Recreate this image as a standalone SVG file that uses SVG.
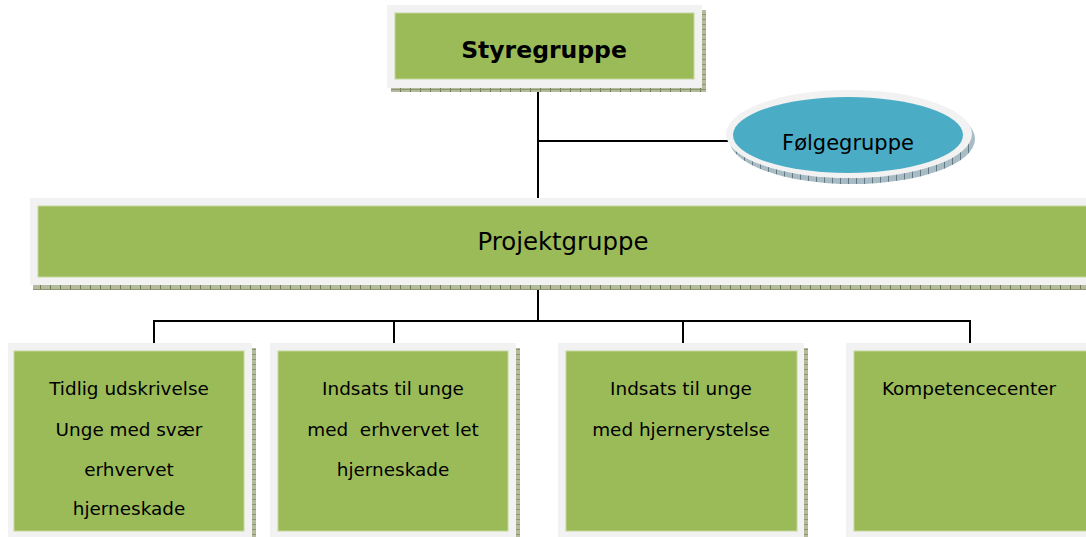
<svg xmlns="http://www.w3.org/2000/svg" width="1086" height="537" viewBox="0 0 1086 537">
<style>
.frame{fill:#f2f2f2}
.box{fill:#9bbb59;stroke:#c3d69b;stroke-width:1}
.sh{fill:url(#hatch)}
.shb{fill:url(#hatchb)}
.conn{stroke:#000;stroke-width:2;fill:none}
text{font-family:"DejaVu Sans","Verdana",sans-serif;fill:#000;text-anchor:middle}
.t{font-size:18.4px}
</style>
<defs>
<pattern id="hatch" width="10" height="5" patternUnits="userSpaceOnUse">
<rect width="10" height="5" fill="#b3bb9c"/>
<rect x="0" width="1" height="5" fill="#6f7a55"/>
<rect y="4" width="10" height="1" fill="#8c9670"/>
</pattern>
<pattern id="hatchb" width="8" height="5" patternUnits="userSpaceOnUse">
<rect width="8" height="5" fill="#a9bcc3"/>
<rect x="0" width="1" height="5" fill="#5f7a86"/>
</pattern>
</defs>
<g id="connectors">
<line class="conn" x1="538" y1="79" x2="538" y2="206"/>
<line class="conn" x1="538" y1="141" x2="728" y2="141"/>
<line class="conn" x1="538" y1="277" x2="538" y2="321"/>
<line class="conn" x1="153" y1="321" x2="971" y2="321"/>
<line class="conn" x1="154" y1="321" x2="154" y2="351"/>
<line class="conn" x1="394" y1="321" x2="394" y2="351"/>
<line class="conn" x1="683" y1="321" x2="683" y2="351"/>
<line class="conn" x1="970" y1="321" x2="970" y2="351"/>
</g>
<g id="styregruppe">
<rect class="sh" x="391" y="10" width="315" height="82"/>
<rect class="frame" x="387" y="5" width="315" height="83"/>
<rect class="box" x="395" y="13" width="299" height="66"/>
<text x="544" y="58" style="font-size:23.5px;font-weight:bold">Styregruppe</text>
</g>
<g id="folgegruppe">
<ellipse class="shb" cx="852" cy="139" rx="123" ry="45"/>
<ellipse class="frame" cx="849" cy="134" rx="123" ry="44"/>
<ellipse fill="#4bacc6" cx="848" cy="135" rx="115" ry="38"/>
<text x="848" y="150" style="font-size:21px">Følgegruppe</text>
</g>
<g id="projektgruppe">
<rect class="sh" x="33" y="284" width="1053" height="6"/>
<rect class="frame" x="30" y="198" width="1056" height="87"/>
<rect class="box" x="38" y="206" width="1050" height="71"/>
<text x="563" y="250" style="font-size:24.4px">Projektgruppe</text>
</g>
<g id="tidlig">
<rect class="sh" x="251" y="348" width="5" height="189"/>
<rect class="frame" x="8" y="343" width="244" height="194"/>
<rect class="box" x="14" y="351" width="230" height="180"/>
<text class="t" x="129" y="395">Tidlig udskrivelse</text>
<text class="t" x="129" y="436">Unge med svær</text>
<text class="t" x="129" y="476">erhvervet</text>
<text class="t" x="129" y="515">hjerneskade</text>
</g>
<g id="indsats-let">
<rect class="sh" x="516" y="348" width="4" height="189"/>
<rect class="frame" x="270" y="343" width="246" height="194"/>
<rect class="box" x="278" y="351" width="230" height="180"/>
<text class="t" x="393" y="395">Indsats til unge</text>
<text class="t" x="393" y="436" xml:space="preserve">med  erhvervet let</text>
<text class="t" x="393" y="476">hjerneskade</text>
</g>
<g id="indsats-rystelse">
<rect class="sh" x="804" y="348" width="4" height="189"/>
<rect class="frame" x="558" y="343" width="246" height="194"/>
<rect class="box" x="566" y="351" width="231" height="180"/>
<text class="t" x="681" y="395">Indsats til unge</text>
<text class="t" x="681" y="436">med hjernerystelse</text>
</g>
<g id="kompetencecenter">
<rect class="frame" x="846" y="343" width="240" height="194"/>
<rect class="box" x="854" y="351" width="234" height="180"/>
<text class="t" x="969" y="395">Kompetencecenter</text>
</g>
</svg>
